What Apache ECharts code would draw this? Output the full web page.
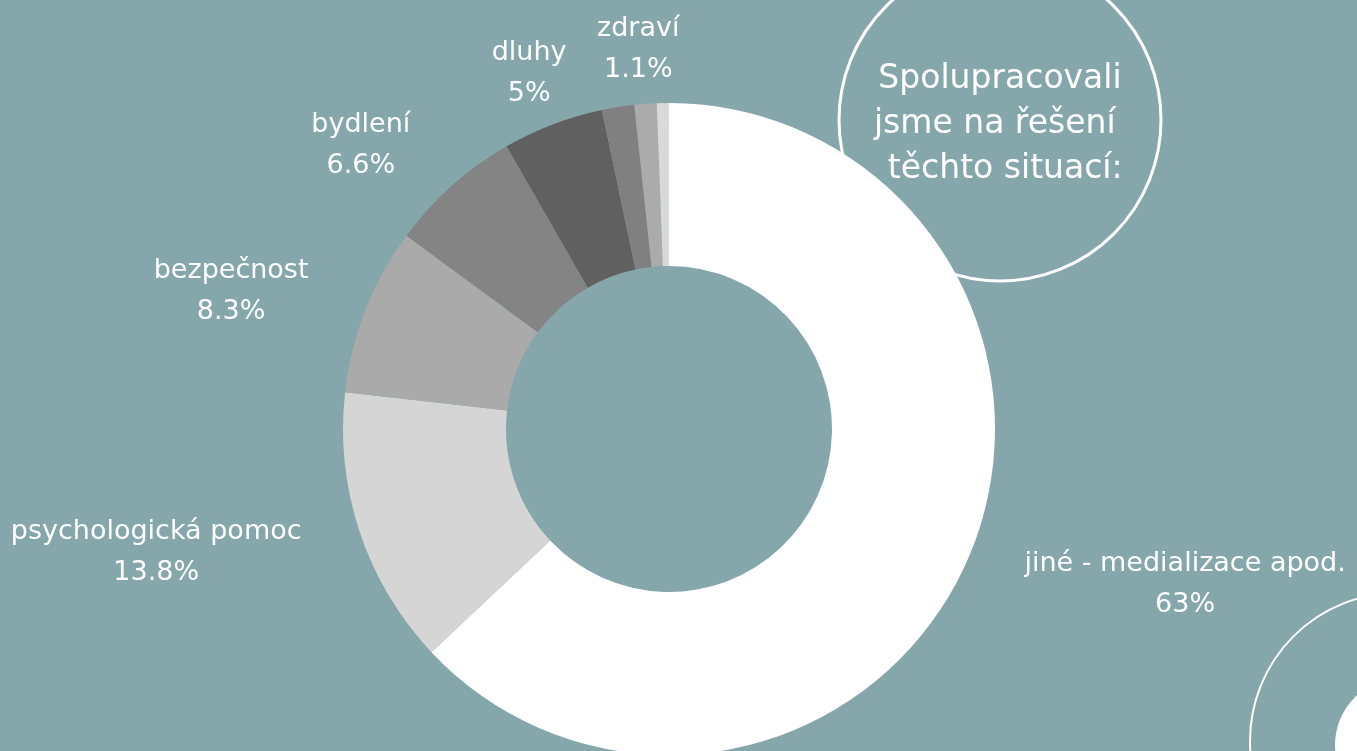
<!DOCTYPE html>
<html>
<head>
<meta charset="utf-8">
<script src="https://cdn.jsdelivr.net/npm/echarts@6/dist/echarts.min.js"></script>
<style>
  html, body { margin: 0; padding: 0; background: #85a7ac; }
  #main { width: 1357px; height: 751px; }
</style>
</head>
<body>
<div id="main"></div>
<script>
// kategorie a podíly (%), po směru hodinových ručiček od 12 hodin
var names = ['jiné - medializace apod.', 'psychologická pomoc', 'bezpečnost', 'bydlení', 'dluhy', 'práce', 'zdraví', 'ostatní'];
var values = [63, 13.8, 8.3, 6.6, 5, 1.6, 1.1, 0.6];
var colors = ['#ffffff', '#d5d5d5', '#aaaaaa', '#848484', '#606060', '#808080', '#ababab', '#d9d9d9'];
var showLabel = [true, true, true, true, true, false, true, false];
var centeredLabel = [false, false, false, false, true, false, true, false];

var bg = '#85a7ac';
var font = '"DejaVu Sans", sans-serif';

var chart = echarts.init(document.getElementById('main'), null, { renderer: 'canvas' });

var data = names.map(function (n, i) {
  return {
    name: n,
    value: values[i],
    itemStyle: { color: colors[i] },
    label: { show: showLabel[i] }
  };
});

var option = {
  backgroundColor: bg,
  animation: false,
  graphic: [
    {
      type: 'circle',
      z: 0,
      shape: { cx: 1000, cy: 120, r: 161 },
      style: { fill: 'none', stroke: '#ffffff', lineWidth: 3 }
    },
    {
      type: 'text',
      z: 100,
      x: 1000,
      y: 124,
      style: {
        text: 'Spolupracovali\njsme na řešení \n těchto situací:',
        fill: '#ffffff',
        font: '33px ' + font,
        lineHeight: 45,
        align: 'center',
        verticalAlign: 'middle'
      }
    },
    {
      type: 'circle',
      z: 0,
      shape: { cx: 1398, cy: 741, r: 148 },
      style: { fill: 'none', stroke: '#ffffff', lineWidth: 2 }
    },
    {
      type: 'circle',
      z: 0,
      shape: { cx: 1402, cy: 745, r: 67 },
      style: { fill: '#ffffff' }
    }
  ],
  series: [
    {
      type: 'pie',
      z: 10,
      center: [669, 429],
      radius: [163, 326],
      startAngle: 90,
      clockwise: true,
      avoidLabelOverlap: false,
      data: data,
      label: {
        position: 'outside',
        color: '#ffffff',
        fontFamily: font,
        fontSize: 27,
        lineHeight: 41,
        distanceToLabelLine: 3,
        formatter: '{t|{b}}\n{t|{c}%}',
        rich: {
          t: { align: 'center', color: '#ffffff', fontFamily: font, fontSize: 27, lineHeight: 41 }
        }
      },
      labelLine: { show: false, length: 58, length2: 0 },
      labelLayout: function (params) {
        if (centeredLabel[params.dataIndex]) {
          return { align: 'center', dy: 3 };
        }
        return { dy: 3 };
      },
      emphasis: { disabled: true }
    }
  ]
};

chart.setOption(option);
</script>
</body>
</html>
